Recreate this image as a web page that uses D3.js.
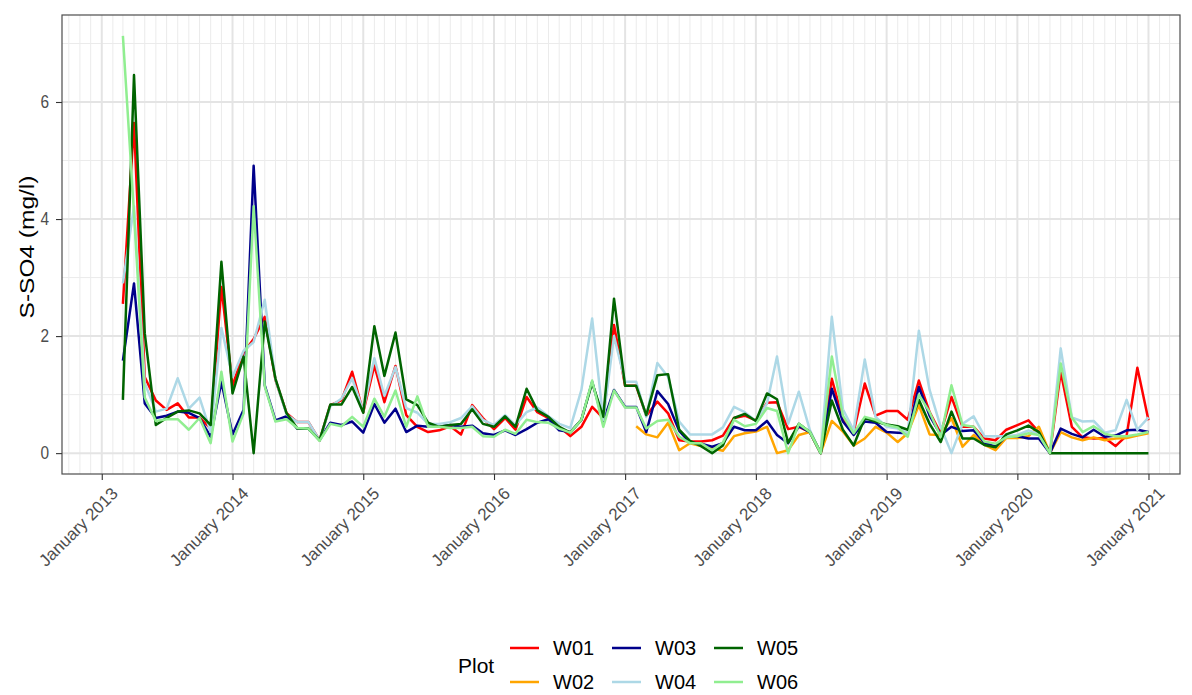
<!DOCTYPE html>
<html>
<head>
<meta charset="utf-8">
<script src="https://cdn.jsdelivr.net/npm/d3@7"></script>
<style>
  body { margin: 0; background: #ffffff; }
  text { font-family: "Liberation Sans", Arial, Helvetica, sans-serif; }
</style>
</head>
<body>
<svg id="chart" width="1192" height="695"></svg>
<script>
// Monthly sampling dates, March 2013 – January 2021
const months = d3.utcMonth.range(new Date(Date.UTC(2013, 2, 1)), new Date(Date.UTC(2021, 0, 2)));

// S-SO4 concentration (mg/l) per plot, one value per month
const W01 = [
  2.55, 5.64, 1.30, 0.90, 0.74, 0.85, 0.61, 0.61, 0.42, 2.84,
  1.15, 1.72, 1.95, 2.33, 1.25, 0.68, 0.53, 0.53, 0.22, 0.82, 0.90, 1.39,
  0.70, 1.50, 0.87, 1.49, 0.65, 0.45, 0.36, 0.39, 0.46, 0.32, 0.82, 0.60,
  0.41, 0.60, 0.40, 0.96, 0.70, 0.60, 0.45, 0.29, 0.45, 0.79, 0.60, 2.19,
  1.15, 1.15, 0.64, 0.88, 0.68, 0.22, 0.20, 0.20, 0.22, 0.30, 0.60, 0.64,
  0.56, 0.86, 0.87, 0.41, 0.45, 0.36, 0.00, 1.27, 0.57, 0.36, 1.19, 0.64,
  0.72, 0.72, 0.57, 1.24, 0.70, 0.34, 0.96, 0.45, 0.45, 0.25, 0.22, 0.40,
  0.48, 0.56, 0.36, 0.00, 1.39, 0.45, 0.27, 0.25, 0.26, 0.12, 0.30, 1.46,
  0.56
];
const W02 = [
  null, null, null, null, null, null, null, null, null, null,
  null, null, null, null, null, null, null, null, null, null, null, null,
  null, null, null, null, null, null, null, null, null, null, null, null,
  null, null, null, null, null, null, null, null, null, null, null, null,
  null, 0.46, 0.32, 0.27, 0.52, 0.05, 0.17, 0.12, 0.08, 0.04, 0.29, 0.34,
  0.37, 0.45, 0.00, 0.05, 0.31, 0.36, 0.00, 0.55, 0.37, 0.13, 0.25, 0.45,
  0.35, 0.19, 0.34, 0.82, 0.32, 0.31, 0.60, 0.11, 0.31, 0.14, 0.05, 0.26,
  0.26, 0.29, 0.45, 0.00, 0.36, 0.27, 0.22, 0.27, 0.22, 0.25, 0.26, 0.30,
  0.34
];
const W03 = [
  1.58, 2.90, 0.85, 0.60, 0.64, 0.71, 0.69, 0.60, 0.28, 1.22,
  0.32, 0.74, 4.91, 1.16, 0.56, 0.63, 0.42, 0.42, 0.22, 0.52, 0.48, 0.54,
  0.35, 0.84, 0.52, 0.76, 0.36, 0.47, 0.45, 0.45, 0.48, 0.45, 0.47, 0.34,
  0.31, 0.39, 0.31, 0.41, 0.52, 0.58, 0.39, 0.36, 0.57, 1.22, 0.54, 1.08,
  0.79, 0.79, 0.36, 1.06, 0.84, 0.38, 0.18, 0.16, 0.11, 0.17, 0.45, 0.39,
  0.39, 0.55, 0.31, 0.17, 0.46, 0.36, 0.00, 1.10, 0.54, 0.31, 0.54, 0.52,
  0.36, 0.35, 0.34, 1.13, 0.64, 0.31, 0.45, 0.38, 0.39, 0.18, 0.11, 0.29,
  0.29, 0.25, 0.25, 0.00, 0.42, 0.33, 0.27, 0.40, 0.28, 0.30, 0.39, 0.40,
  0.36
];
const W04 = [
  2.90, 4.22, 1.20, 0.71, 0.76, 1.28, 0.76, 0.95, 0.36, 2.14,
  1.30, 1.75, 1.90, 2.62, 1.25, 0.66, 0.53, 0.53, 0.22, 0.80, 0.93, 1.28,
  0.72, 1.62, 0.98, 1.47, 0.77, 0.69, 0.50, 0.50, 0.53, 0.60, 0.80, 0.57,
  0.48, 0.65, 0.48, 0.70, 0.78, 0.63, 0.50, 0.43, 1.08, 2.30, 0.57, 2.00,
  1.22, 1.22, 0.62, 1.54, 1.30, 0.54, 0.32, 0.32, 0.32, 0.44, 0.79, 0.70,
  0.55, 0.85, 1.65, 0.50, 1.05, 0.39, 0.00, 2.33, 0.75, 0.39, 1.60, 0.62,
  0.45, 0.42, 0.34, 2.09, 1.08, 0.45, 0.00, 0.50, 0.63, 0.29, 0.29, 0.29,
  0.31, 0.39, 0.33, 0.00, 1.79, 0.61, 0.54, 0.55, 0.35, 0.39, 0.91, 0.40,
  0.61
];
const W05 = [
  0.91, 6.46, 2.05, 0.48, 0.60, 0.71, 0.73, 0.68, 0.48, 3.27,
  1.02, 1.65, 0.00, 2.25, 1.27, 0.68, 0.42, 0.42, 0.22, 0.83, 0.83, 1.13,
  0.69, 2.17, 1.32, 2.06, 0.92, 0.82, 0.52, 0.45, 0.48, 0.50, 0.75, 0.50,
  0.45, 0.63, 0.45, 1.10, 0.73, 0.62, 0.45, 0.35, 0.57, 1.20, 0.62, 2.64,
  1.15, 1.15, 0.65, 1.33, 1.35, 0.40, 0.21, 0.12, 0.00, 0.13, 0.60, 0.67,
  0.55, 1.02, 0.92, 0.18, 0.50, 0.36, 0.00, 0.90, 0.40, 0.13, 0.60, 0.54,
  0.49, 0.46, 0.40, 0.91, 0.50, 0.19, 0.71, 0.25, 0.25, 0.14, 0.10, 0.32,
  0.39, 0.47, 0.36, 0.00, 0.00, 0.00, 0.00, 0.00, 0.00, 0.00, 0.00, 0.00,
  0.00
];
const W06 = [
  7.13, 4.10, 0.95, 0.55, 0.58, 0.58, 0.40, 0.60, 0.17, 1.39,
  0.20, 0.68, 4.22, 1.14, 0.54, 0.58, 0.43, 0.42, 0.21, 0.50, 0.46, 0.62,
  0.45, 0.93, 0.62, 1.07, 0.45, 0.97, 0.45, 0.45, 0.43, 0.43, 0.45, 0.29,
  0.28, 0.40, 0.33, 0.57, 0.53, 0.52, 0.42, 0.35, 0.57, 1.24, 0.45, 1.07,
  0.78, 0.78, 0.42, 0.55, 0.57, 0.28, 0.17, 0.17, 0.05, 0.18, 0.57, 0.46,
  0.50, 0.77, 0.72, 0.00, 0.50, 0.36, 0.00, 1.65, 0.64, 0.34, 0.62, 0.57,
  0.48, 0.44, 0.28, 1.00, 0.70, 0.28, 1.16, 0.48, 0.45, 0.20, 0.16, 0.27,
  0.29, 0.34, 0.31, 0.00, 1.53, 0.61, 0.36, 0.46, 0.33, 0.29, 0.29, 0.32,
  0.36
];

const plotNames = ["W01", "W02", "W03", "W04", "W05", "W06"];
const plotValues = [W01, W02, W03, W04, W05, W06];
const plotColours = ["#ff0000", "#ffa500", "#00008b", "#add8e6", "#006400", "#90ee90"];
const yTicks = [0, 2, 4, 6];
const yMinorTicks = [1, 3, 5, 7];
const yTitle = "S-SO4 (mg/l)";
const legendTitle = "Plot";

// Panel geometry
const panel = { left: 62, right: 1180, top: 15, bottom: 474 };

const svg = d3.select("#chart");

const x = d3.scaleUtc()
  .domain([new Date(Date.UTC(2012, 8, 12)), new Date(Date.UTC(2021, 2, 30))])
  .range([panel.left, panel.right]);

const allValues = plotValues.flat().filter(v => v != null);
const [yMin, yMax] = d3.extent(allValues);
const yPad = (yMax - yMin) * 0.05;
const y = d3.scaleLinear()
  .domain([yMin - yPad, yMax + yPad])
  .range([panel.bottom, panel.top]);

// Panel background
svg.append("rect")
  .attr("x", panel.left).attr("y", panel.top)
  .attr("width", panel.right - panel.left).attr("height", panel.bottom - panel.top)
  .attr("fill", "#ffffff");

const grid = svg.append("g");
const [d0, d1] = x.domain();

// Minor grid: months and odd values
grid.selectAll("line.vminor")
  .data(d3.utcMonth.range(d0, d1).filter(d => d.getUTCMonth() !== 0))
  .join("line")
  .attr("x1", d => x(d)).attr("x2", d => x(d))
  .attr("y1", panel.top).attr("y2", panel.bottom)
  .attr("stroke", "#ebebeb").attr("stroke-width", 1);
grid.selectAll("line.hminor")
  .data(yMinorTicks)
  .join("line")
  .attr("x1", panel.left).attr("x2", panel.right)
  .attr("y1", d => y(d)).attr("y2", d => y(d))
  .attr("stroke", "#ebebeb").attr("stroke-width", 1);

// Major grid: years and even values
grid.selectAll("line.vmajor")
  .data(d3.utcYear.range(d0, d1))
  .join("line")
  .attr("x1", d => x(d)).attr("x2", d => x(d))
  .attr("y1", panel.top).attr("y2", panel.bottom)
  .attr("stroke", "#e4e4e4").attr("stroke-width", 2);
grid.selectAll("line.hmajor")
  .data(yTicks)
  .join("line")
  .attr("x1", panel.left).attr("x2", panel.right)
  .attr("y1", d => y(d)).attr("y2", d => y(d))
  .attr("stroke", "#e4e4e4").attr("stroke-width", 2);

// Series lines
const line = d3.line()
  .defined(d => d.v != null)
  .x(d => x(d.date))
  .y(d => y(d.v));

const series = plotNames.map((name, i) => ({
  name,
  colour: plotColours[i],
  points: months.map((date, j) => ({ date, v: plotValues[i][j] }))
}));

svg.append("g")
  .selectAll("path")
  .data(series)
  .join("path")
  .attr("d", s => line(s.points))
  .attr("fill", "none")
  .attr("stroke", s => s.colour)
  .attr("stroke-width", 2.5)
  .attr("stroke-linejoin", "round");

// Panel border
svg.append("rect")
  .attr("x", panel.left).attr("y", panel.top)
  .attr("width", panel.right - panel.left).attr("height", panel.bottom - panel.top)
  .attr("fill", "none").attr("stroke", "#4d4d4d").attr("stroke-width", 1.2);

// Y axis
const yAxis = svg.append("g")
  .attr("transform", `translate(${panel.left},0)`)
  .call(d3.axisLeft(y).tickValues(yTicks).tickSize(6).tickFormat(d3.format("d")));
yAxis.select(".domain").remove();
yAxis.selectAll(".tick line").attr("stroke", "#333333").attr("stroke-width", 1.1);
yAxis.selectAll(".tick text")
  .attr("x", 0)
  .attr("transform", "translate(-13,0) scale(0.88,1)")
  .attr("fill", "#4d4d4d")
  .style("font-size", "17.5px")
  .style("font-family", "'Liberation Sans', Arial, sans-serif");

// X axis
const xAxis = svg.append("g")
  .attr("transform", `translate(0,${panel.bottom})`)
  .call(d3.axisBottom(x).ticks(d3.utcYear.every(1)).tickSize(6).tickFormat(d3.utcFormat("%B %Y")));
xAxis.select(".domain").remove();
xAxis.selectAll(".tick line").attr("stroke", "#333333").attr("stroke-width", 1.1);
xAxis.selectAll(".tick text")
  .attr("fill", "#4d4d4d")
  .attr("text-anchor", "end")
  .attr("x", 0).attr("y", 0).attr("dy", "0.72em")
  .attr("transform", "translate(8,12) rotate(-45)")
  .style("font-size", "17px")
  .style("font-family", "'Liberation Sans', Arial, sans-serif");

// Y axis title
svg.append("text")
  .attr("transform", "translate(27,247) scale(0.8,1) rotate(-90)")
  .attr("text-anchor", "middle")
  .attr("dy", "0.35em")
  .attr("fill", "#000000")
  .style("font-size", "24.5px")
  .text(yTitle);

// Legend
const legend = svg.append("g");
legend.append("text")
  .attr("x", 458).attr("y", 666)
  .attr("dy", "0.35em")
  .attr("fill", "#000000")
  .style("font-size", "21px")
  .text(legendTitle);

const keyCols = [510, 612, 714];
const keyRows = [648, 682];
const items = legend.selectAll("g.item")
  .data(series)
  .join("g")
  .attr("transform", (s, i) => `translate(${keyCols[Math.floor(i / 2)]},${keyRows[i % 2]})`);
items.append("line")
  .attr("x1", 0).attr("x2", 29)
  .attr("y1", 0).attr("y2", 0)
  .attr("stroke", s => s.colour)
  .attr("stroke-width", 2.5);
items.append("text")
  .attr("x", 43).attr("y", 0)
  .attr("dy", "0.35em")
  .attr("fill", "#000000")
  .style("font-size", "20px")
  .text(s => s.name);
</script>
</body>
</html>
